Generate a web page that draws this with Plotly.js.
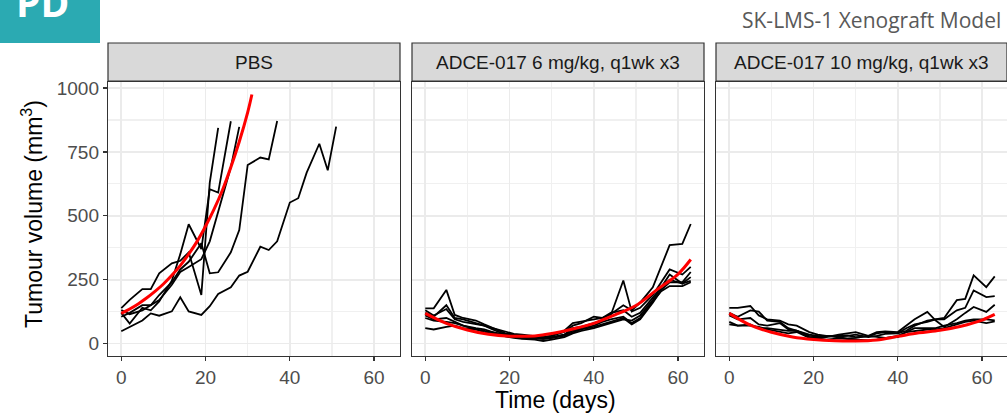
<!DOCTYPE html>
<html>
<head>
<meta charset="utf-8">
<script src="https://cdn.plot.ly/plotly-3.0.1.min.js"></script>
<style>html,body{margin:0;padding:0;background:#fff;}#chart{width:1007px;height:414px;}</style>
</head>
<body>
<div id="chart"></div>
<script>
// ---------------- data ----------------
const panelTitles = ["PBS", "ADCE-017 6 mg/kg, q1wk x3", "ADCE-017 10 mg/kg, q1wk x3"];
const days = [0,2,5,7,9,12,14,16,19,21,23,26,28,30,33,35,37,40,42,44,47,49,51,54,56,58,61,63];

// PBS individual animals (values follow "days" until the animal left the study)
const pbsA = [48,64,90,118,109,126,181,126,112,146,194,220,266,281,379,366,400,552,569,669,782,678,849];
const pbsB = [105,120,150,150,190,240,290,320,393,275,279,357,444,699,728,721,871];
const pbsC = [139,171,213,213,275,314,324,357,190,630,844];
const pbsD = [120,78,140,130,165,246,350,467,370,604,591,870];
const pbsE = [131,115,130,150,170,230,280,300,330,400,520,690,848];

// ADCE-017 6 mg/kg
const d6_1 = [138,138,210,112,100,90,75,60,40,35,30,28,25,30,45,70,80,105,100,115,150,130,160,220,300,385,390,468];
const d6_2 = [120,105,150,100,95,80,70,55,35,30,25,20,18,22,35,60,65,80,90,110,247,125,140,190,240,290,270,300];
const d6_3 = [130,110,135,95,85,75,70,60,45,38,35,30,25,30,50,80,85,95,100,120,130,105,120,180,220,270,235,260];
const d6_4 = [60,55,65,70,60,55,45,40,30,25,20,22,18,22,30,45,55,65,75,85,100,75,95,160,210,240,240,280];
const d6_5 = [110,95,100,85,70,60,55,45,28,22,18,15,10,15,25,40,50,60,70,80,95,90,110,170,220,250,235,245];
const d6_6 = [100,90,85,80,70,55,50,45,35,30,30,25,20,25,35,50,60,70,85,95,105,80,100,165,205,225,225,240];

// ADCE-017 10 mg/kg
const d10_1 = [140,140,147,110,95,90,75,70,45,35,30,28,30,35,25,30,38,40,50,70,90,95,100,170,175,267,221,263];
const d10_2 = [120,105,130,125,90,85,60,50,35,30,28,30,32,25,28,40,45,40,60,75,85,95,95,130,140,208,182,186];
const d10_3 = [110,95,100,75,70,80,55,50,30,28,30,25,20,22,30,45,48,45,70,95,124,90,65,95,120,143,124,152];
const d10_4 = [85,70,75,60,60,55,50,50,25,22,25,35,40,45,30,25,22,25,45,60,60,60,70,80,90,95,95,91];
const d10_5 = [75,70,70,65,55,45,40,45,22,20,15,20,18,15,12,15,20,30,45,50,55,55,60,75,85,90,80,87];

// population fits (red)
const fitPbsT = [0,2,4,6,8,10,12,14,16,18,20,22,24,26,28,30,31];
const fitPbsV = [118,135,155,178,204,233,267,305,350,400,459,525,600,690,790,905,975];
const fit6T = [0,5,10,15,20,26,30,35,40,45,50,55,60,63];
const fit6V = [118,79,53,36,29,30,39,57,79,112,149,211,272,329];
const fit10T = [0,5,10,15,20,25,30,35,40,45,50,55,60,63];
const fit10V = [118,72,44,26,16,11,10,14,28,42,52,68,92,114];

const xTicks = [0,20,40,60];
const yTicks = [0,250,500,750,1000];

// ---------------- build ----------------
const W = 1007, H = 414;
const panels = [
  {lines:[pbsA,pbsB,pbsC,pbsD,pbsE], fitT:fitPbsT, fitV:fitPbsV, x0:108, x1:400},
  {lines:[d6_1,d6_2,d6_3,d6_4,d6_5,d6_6], fitT:fit6T, fitV:fit6V, x0:412, x1:704},
  {lines:[d10_1,d10_2,d10_3,d10_4,d10_5], fitT:fit10T, fitV:fit10V, x0:716, x1:1007}
];
const plotTop = 82, plotBot = 356, stripTop = 43;
const pxPerDay = 292 / 69.3;

const traces = [];
const layout = {
  width: W, height: H, margin:{l:0,r:0,t:0,b:0},
  paper_bgcolor:'#ffffff', plot_bgcolor:'#ffffff',
  showlegend:false,
  font:{family:'Liberation Sans, Arial, sans-serif', color:'#4D4D4D'},
  shapes:[], annotations:[]
};

panels.forEach((p, i) => {
  const ax = i === 0 ? '' : String(i+1);
  p.lines.forEach(v => {
    traces.push({x: days.slice(0, v.length), y: v, type:'scatter', mode:'lines',
      xaxis:'x'+ax, yaxis:'y'+ax, line:{color:'#000000', width:1.8}, hoverinfo:'skip'});
  });
  traces.push({x:p.fitT, y:p.fitV, type:'scatter', mode:'lines', xaxis:'x'+ax, yaxis:'y'+ax,
    line:{color:'#FF0000', width:3, shape:'spline', smoothing:1}, hoverinfo:'skip'});

  const width = p.x1 - p.x0;
  const xr = [-3.15, -3.15 + width / pxPerDay];
  layout['xaxis'+ax] = {
    domain:[p.x0/W, p.x1/W], range:xr, anchor:'y'+ax,
    tickmode:'array', tickvals:xTicks, ticks:'outside', ticklen:4, tickwidth:1.2, tickcolor:'#333333',
    tickfont:{size:19, color:'#4D4D4D'},
    showgrid:true, gridcolor:'#EBEBEB', gridwidth:1.8,
    minor:{tickmode:'array', tickvals:[10,30,50], showgrid:true, gridcolor:'#F0F0F0', gridwidth:1.1, ticks:''},
    zeroline:false, showline:true, mirror:true, linecolor:'#333333', linewidth:1.2
  };
  layout['yaxis'+ax] = {
    domain:[1-plotBot/H, 1-plotTop/H], range:[-48.75, 1023.75], anchor:'x'+ax,
    tickmode:'array', tickvals: yTicks,
    ticks: i===0 ? 'outside' : '', ticklen:4, tickwidth:1.2, tickcolor:'#333333',
    showticklabels: i===0, tickfont:{size:19, color:'#4D4D4D'},
    showgrid:true, gridcolor:'#EBEBEB', gridwidth:1.8,
    minor:{tickmode:'array', tickvals:[125,375,625,875], showgrid:true, gridcolor:'#F0F0F0', gridwidth:1.1, ticks:''},
    zeroline:false, showline:true, mirror:true, linecolor:'#333333', linewidth:1.2
  };
  // strip
  layout.shapes.push({type:'rect', xref:'paper', yref:'paper',
    x0:p.x0/W, x1:p.x1/W, y0:1-(plotTop-1)/H, y1:1-stripTop/H,
    fillcolor:'#D9D9D9', line:{color:'#333333', width:1.2}, layer:'above'});
  layout.annotations.push({xref:'paper', yref:'paper', x:(p.x0+p.x1)/2/W, y:1-(stripTop+plotTop)/2/H,
    xanchor:'center', yanchor:'middle', showarrow:false, text:panelTitles[i],
    font:{size:19, color:'#1A1A1A'}});
});

// axis titles
layout.annotations.push({xref:'paper', yref:'paper', x:555/W, y:1-400/H, xanchor:'center', yanchor:'middle',
  showarrow:false, text:'Time (days)', font:{size:23, color:'#000000'}});
layout.annotations.push({xref:'paper', yref:'paper', x:32/W, y:1-214/H, xanchor:'center', yanchor:'middle',
  showarrow:false, textangle:-90, text:'Tumour volume (mm<sup>3</sup>)', font:{size:23, color:'#000000'}});

// top-right model title
layout.annotations.push({xref:'paper', yref:'paper', x:1003/W, y:1-20/H, xanchor:'right', yanchor:'middle',
  showarrow:false, text:'SK-LMS-1 Xenograft Model', font:{family:'Open Sans, Noto Sans, sans-serif', size:21, color:'#595959'}});

// PD badge (text partly cut off at the top, as in the reference)
layout.shapes.push({type:'rect', xref:'paper', yref:'paper', x0:0, x1:100/W, y0:1-43/H, y1:1.02,
  fillcolor:'#2BAAB2', line:{width:0}});
layout.annotations.push({xref:'paper', yref:'paper', x:14/W, y:1-30/H, xanchor:'left', yanchor:'bottom',
  showarrow:false, text:'<b>PD</b>', font:{family:'Open Sans, Noto Sans, sans-serif', size:39, color:'#FFFFFF'}});

Plotly.newPlot('chart', traces, layout, {staticPlot:true, displayModeBar:false});
</script>
</body>
</html>
